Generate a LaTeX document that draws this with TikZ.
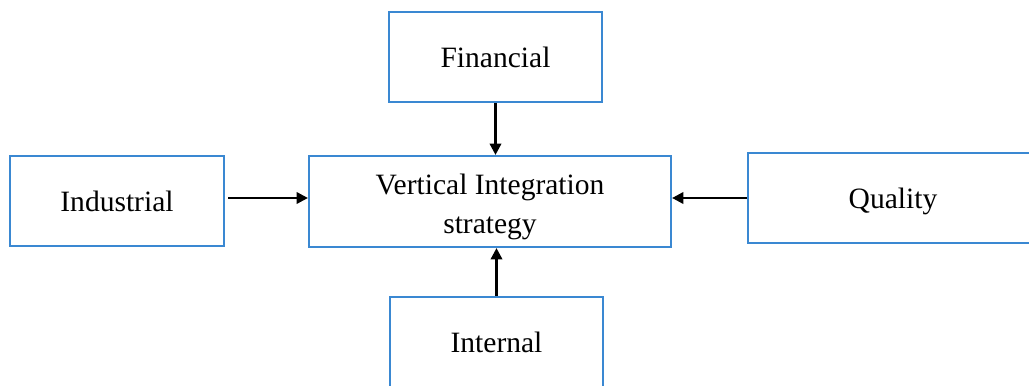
\documentclass[tikz,border=0pt]{standalone}
\usepackage{fontspec}
\setmainfont{Liberation Serif}
\usetikzlibrary{arrows.meta}
\definecolor{boxblue}{HTML}{3A88D2}
\tikzset{
  boxtext/.style={inner sep=0pt, align=center, font=\fontsize{21}{27.5}\selectfont},
  box/.style={boxtext, draw=boxblue, line width=1.5pt, fill=white},
  arr/.style={draw=black, line width=1.8pt, -{Triangle[length=8pt,width=8pt]}}
}
\begin{document}
\begin{tikzpicture}[x=0.025cm,y=-0.025cm]
\clip (0,0) rectangle (1029,386);
\useasboundingbox (0,0) rectangle (1029,386);
\node[box, minimum width=213*0.025cm, minimum height=90*0.025cm] (fin) at (495.5,57) {Financial};
\node[box, minimum width=214*0.025cm, minimum height=90*0.025cm] (ind) at (117,201) {Industrial};
\node[box, minimum width=362*0.025cm, minimum height=91*0.025cm] (ctr) at (490,201.5) {};
\node[boxtext] (ctrtext) at (490,207) {Vertical Integration\\strategy};
\node[box, minimum width=290*0.025cm, minimum height=90*0.025cm] (qua) at (893,198) {};
\node[boxtext] (quatext) at (893,201) {Quality};
\node[box, minimum width=213*0.025cm, minimum height=90*0.025cm] (int) at (496.5,342) {Internal};
\draw[arr] (fin.south) -- (fin.south |- ctr.north);
\draw[arr, shorten <=3*0.025cm] ([yshift=3*0.025cm]ind.east) -- ([yshift=3*0.025cm]ind.east -| ctr.west);
\draw[arr] (qua.west) -- (qua.west -| ctr.east);
\draw[arr] (int.north) -- (int.north |- ctr.south);
\end{tikzpicture}
\end{document}
